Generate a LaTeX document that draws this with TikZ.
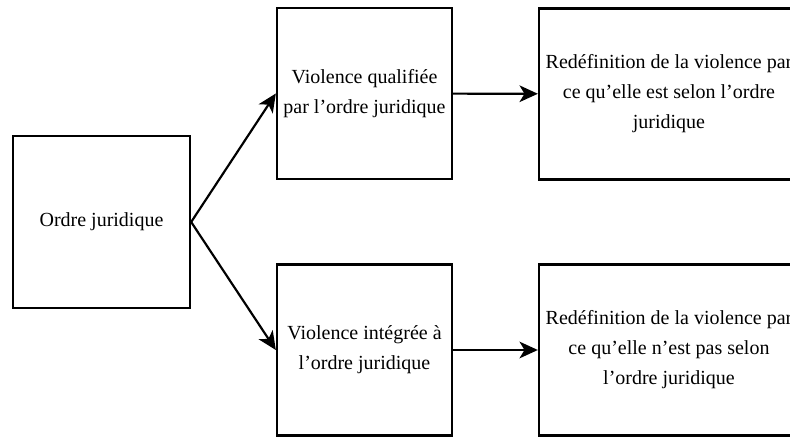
\documentclass[tikz,border=0pt]{standalone}
\usepackage{fontspec}
\setmainfont{Liberation Serif}
\usetikzlibrary{arrows.meta}

\begin{document}
\begin{tikzpicture}[
            x=0.6pt, y=-0.6pt,
            font=\fontsize{12pt}{18pt}\selectfont,
            block/.style={
                rectangle,
                draw,
                line width=1.4pt,
                minimum width=105pt,
                minimum height=102.6pt,
                align=center,
                inner sep=0pt
            },
            wide/.style={
                block,
                minimum width=156pt
            },
            link/.style={
                -{Stealth[length=11pt, width=10pt, inset=3pt]},
                line width=1.3pt
            }
        ]

            \useasboundingbox (0, 0) rectangle (790, 437);
            \clip (0, 0) rectangle (790, 437);

            \node[block, minimum width=106.2pt, minimum height=103.2pt] (ordre) at (101.5, 222) {Ordre juridique};

            \node[block] (qualif) at (364.5, 93.5) {Violence qualifiée\\par l’ordre juridique};
            \node[block] (integ) at (364.5, 350) {Violence intégrée à\\l’ordre juridique};

            \node[wide] (redef1) at (669, 94) {Redéfinition de la violence par\\ce qu’elle est selon l’ordre\\juridique};
            \node[wide] (redef2) at (669, 350) {Redéfinition de la violence par\\ce qu’elle n’est pas selon\\l’ordre juridique};

            \draw[link] (ordre.east) -- (qualif.west);
            \draw[link] (ordre.east) -- (integ.west);

            \draw[link] (qualif) -- (redef1);
            \draw[link] (integ) -- (redef2);

        \end{tikzpicture}
\end{document}
